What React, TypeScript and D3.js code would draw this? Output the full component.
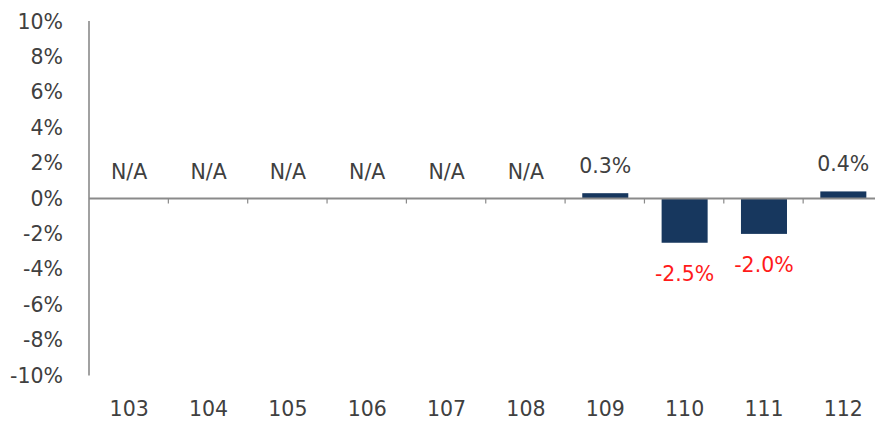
import React from "react";
import * as d3 from "d3";

// Year-over-year change by fiscal year (ROC calendar); null = not available
const years: string[] = ["103", "104", "105", "106", "107", "108", "109", "110", "111", "112"];
const changes: (number | null)[] = [null, null, null, null, null, null, 0.3, -2.5, -2.0, 0.4];
const yTicks: number[] = [10, 8, 6, 4, 2, 0, -2, -4, -6, -8, -10];

const W = 875;
const H = 424;
const FONT = "'DejaVu Sans', sans-serif";
const TEXT = "#404040";
const BAR = "#17375E";
const AXIS = "#8a8a8a";
const NEG = "#ff1a1a";

export default function App() {
  const x = d3
    .scaleBand<string>()
    .domain(years)
    .range([88.5, 882])
    .paddingInner(0.42)
    .paddingOuter(0.21);
  const step = x.step();
  const y = d3.scaleLinear().domain([-10, 10]).range([375.5, 21.5]);
  const y0 = y(0);
  const fmt = (v: number) => `${v.toFixed(1)}%`;

  return (
    <svg
      width={W}
      height={H}
      style={{ position: "absolute", left: 0, top: 0, background: "#fff" }}
      fontFamily={FONT}
    >
      {/* value axis */}
      <line x1={89} x2={89} y1={21} y2={375.5} stroke={AXIS} strokeWidth={1.6} />
      {yTicks.map((t) => (
        <text
          key={t}
          x={63}
          y={y(t)}
          textAnchor="end"
          dominantBaseline="central"
          fontSize={20.5}
          fill={TEXT}
        >
          {`${t}%`}
        </text>
      ))}

      {/* bars */}
      {years.map((yr, i) => {
        const v = changes[i];
        if (v === null) return null;
        const top = y(Math.max(v, 0));
        const bottom = y(Math.min(v, 0));
        return (
          <rect
            key={yr}
            x={(x(yr) as number) + 1}
            y={top}
            width={x.bandwidth()}
            height={bottom - top}
            fill={BAR}
          />
        );
      })}

      {/* category axis */}
      <line x1={89} x2={W} y1={y0} y2={y0} stroke={AXIS} strokeWidth={1.8} />
      {years.slice(1).map((yr) => {
        const bx = (x(yr) as number) - (step - x.bandwidth()) / 2 + 0.5;
        return <line key={yr} x1={bx} x2={bx} y1={y0} y2={y0 + 5} stroke={AXIS} strokeWidth={1.2} />;
      })}
      {years.map((yr) => (
        <text
          key={yr}
          x={(x(yr) as number) + x.bandwidth() / 2 + 1}
          y={416}
          textAnchor="middle"
          fontSize={20.5}
          fill={TEXT}
        >
          {yr}
        </text>
      ))}

      {/* data labels */}
      {years.map((yr, i) => {
        const v = changes[i];
        const cx = (x(yr) as number) + x.bandwidth() / 2 + 1;
        if (v === null || v >= 0) {
          const ty = y(v === null ? 0 : v) - 20;
          return (
            <text key={yr} x={cx} y={ty} textAnchor="middle" fontSize={20.5} fill={TEXT}>
              {v === null ? "N/A" : fmt(v)}
            </text>
          );
        }
        return (
          <text key={yr} x={cx} y={y(v) + 38} textAnchor="middle" fontSize={20.5} fill={NEG}>
            {fmt(v)}
          </text>
        );
      })}
    </svg>
  );
}
